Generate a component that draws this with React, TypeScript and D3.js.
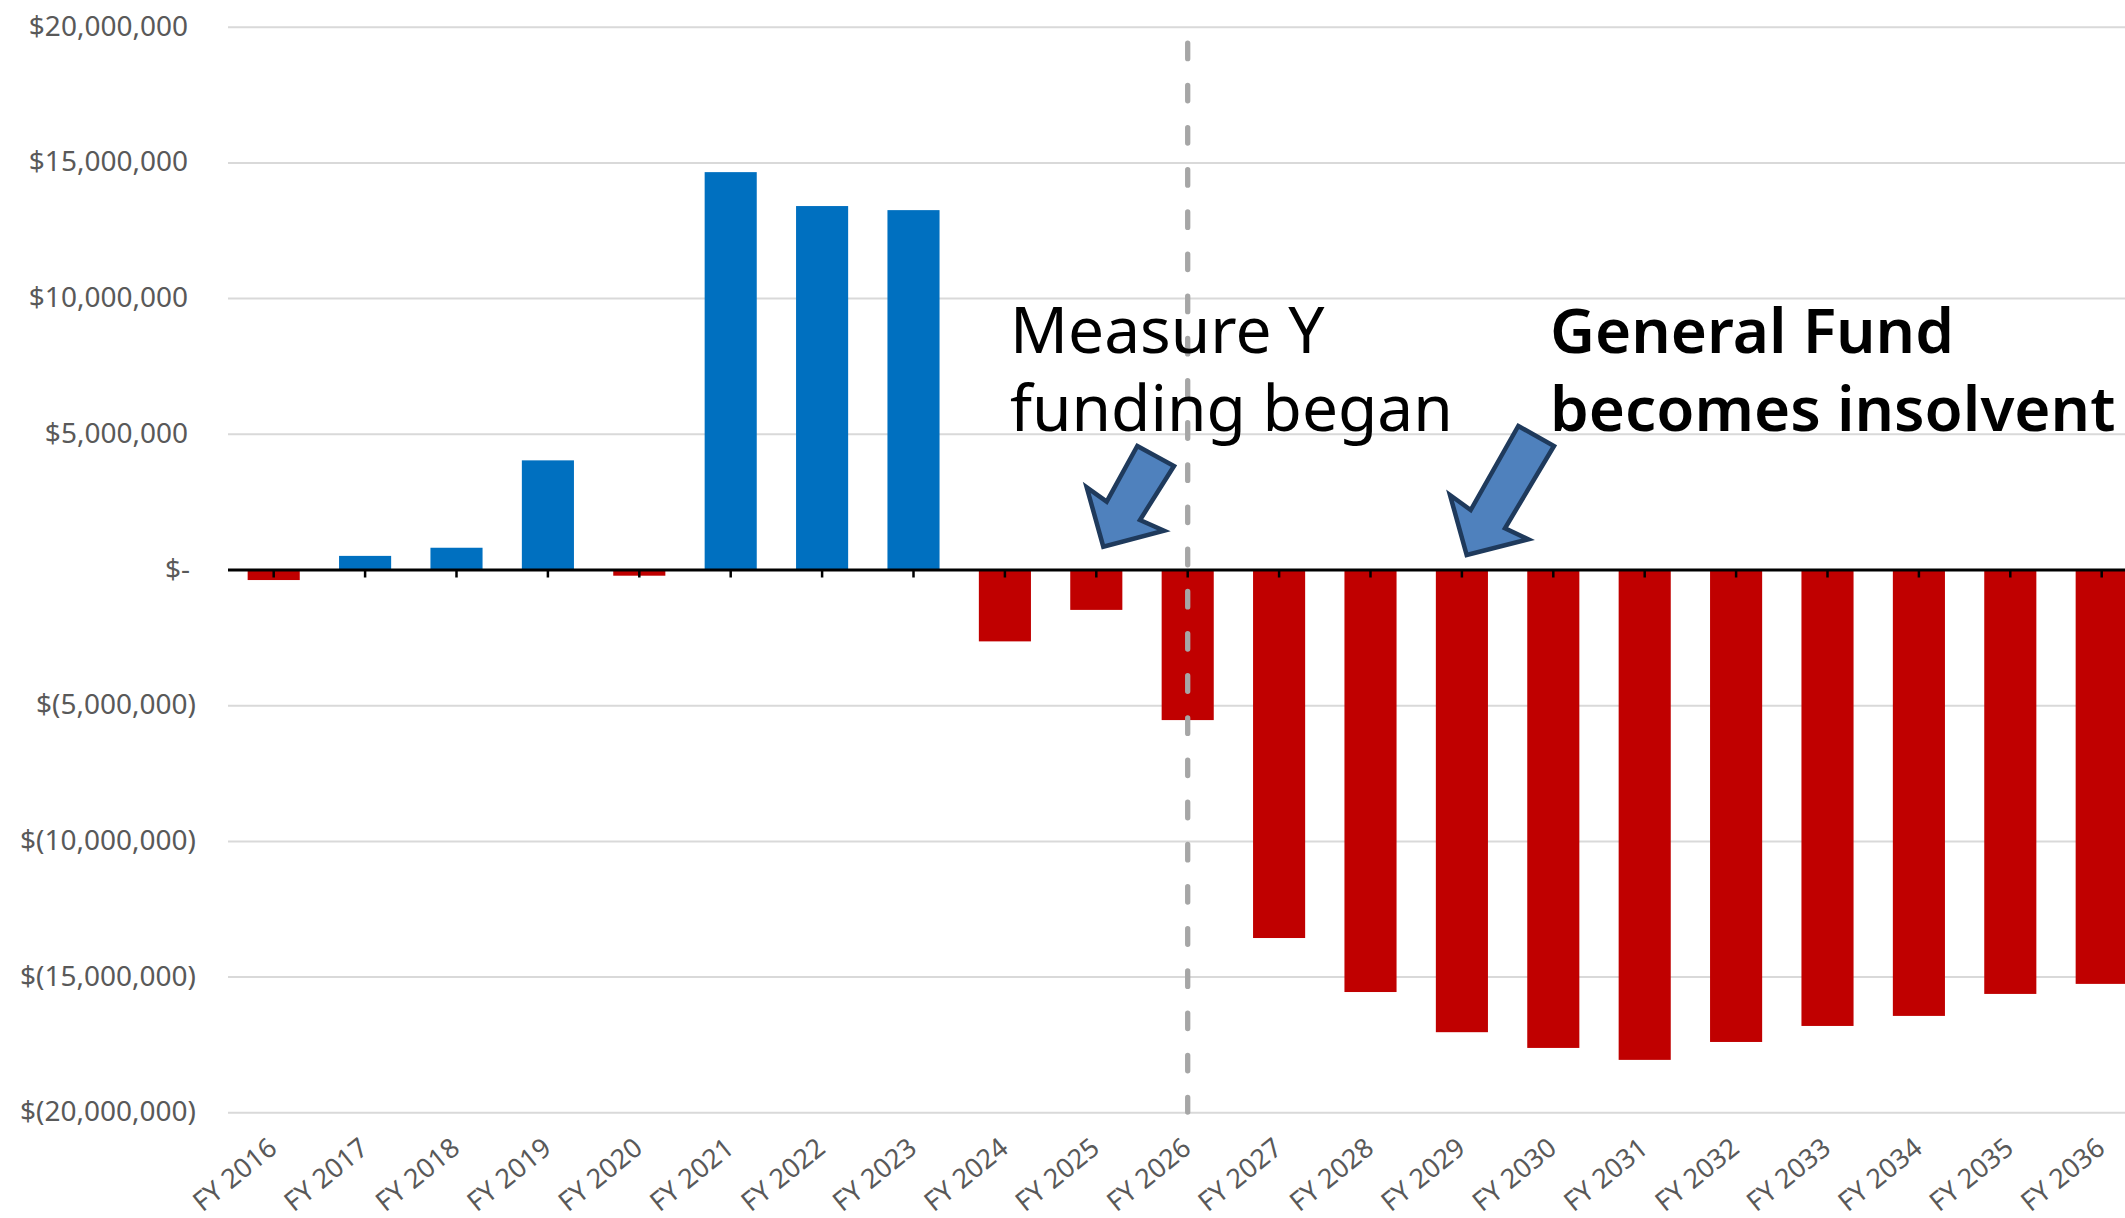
import { useRef, useEffect } from "react";
import * as d3 from "d3";

const years = [
  "FY 2016", "FY 2017", "FY 2018", "FY 2019", "FY 2020", "FY 2021", "FY 2022",
  "FY 2023", "FY 2024", "FY 2025", "FY 2026", "FY 2027", "FY 2028", "FY 2029",
  "FY 2030", "FY 2031", "FY 2032", "FY 2033", "FY 2034", "FY 2035", "FY 2036",
];

// net surplus / deficit, in millions of dollars
const netMillions = [
  -0.37, 0.52, 0.82, 4.04, -0.21, 14.66, 13.41, 13.26, -2.63, -1.47, -5.53,
  -13.56, -15.55, -17.03, -17.61, -18.05, -17.39, -16.8, -16.43, -15.62, -15.25,
];

const yTicks = [20, 15, 10, 5, 0, -5, -10, -15, -20].map((m) => m * 1e6);

const measureYear = "FY 2026";
const noteLeft = ["Measure Y", "funding began"];
const noteRight = ["General Fund", "becomes insolvent"];

const W = 2125;
const H = 1218;

const fmtMoney = (v) => {
  if (v === 0) return "$-";
  const s = d3.format(",")(Math.abs(v));
  return v < 0 ? `$(${s})` : `$${s}`;
};

function App() {
  const svgRef = useRef(null);

  useEffect(() => {
    const svg = d3.select(svgRef.current);
    svg.selectAll("*").remove();

    const left = 228;
    const step = 91.4;
    const x = d3
      .scaleBand()
      .domain(years)
      .range([left, left + step * years.length])
      .paddingInner(0.43)
      .paddingOuter(0.215);
    const y = d3.scaleLinear().domain([-20e6, 20e6]).range([1112.8, 27.2]);
    const cx = (d) => x(d) + x.bandwidth() / 2;
    const data = years.map((yr, i) => ({ yr, v: netMillions[i] * 1e6 }));

    svg.append("rect").attr("width", W).attr("height", H).attr("fill", "#fff");

    // gridlines
    svg
      .append("g")
      .selectAll("line")
      .data(yTicks)
      .join("line")
      .attr("x1", left)
      .attr("x2", W)
      .attr("y1", (d) => y(d))
      .attr("y2", (d) => y(d))
      .attr("stroke", "#d9d9d9")
      .attr("stroke-width", 2);

    // y labels
    svg
      .append("g")
      .selectAll("text")
      .data(yTicks)
      .join("text")
      .attr("x", (d) => (d < 0 ? 196 : d === 0 ? 190 : 188))
      .attr("y", (d) => y(d) - 1)
      .attr("dy", "0.34em")
      .attr("text-anchor", "end")
      .attr("font-family", "'Noto Sans', sans-serif")
      .attr("font-size", 28)
      .attr("fill", "#595959")
      .text(fmtMoney);

    // bars
    svg
      .append("g")
      .selectAll("rect")
      .data(data)
      .join("rect")
      .attr("x", (d) => x(d.yr))
      .attr("width", x.bandwidth())
      .attr("y", (d) => y(Math.max(0, d.v)))
      .attr("height", (d) => Math.abs(y(d.v) - y(0)))
      .attr("fill", (d) => (d.v >= 0 ? "#0070c0" : "#c00000"));

    // dashed marker line
    svg
      .append("line")
      .attr("x1", cx(measureYear))
      .attr("x2", cx(measureYear))
      .attr("y1", 43.2)
      .attr("y2", 1112)
      .attr("stroke", "#a6a6a6")
      .attr("stroke-width", 5.3)
      .attr("stroke-linecap", "round")
      .attr("stroke-dasharray", "15.5 26.67");

    // zero axis + ticks
    svg
      .append("line")
      .attr("x1", left)
      .attr("x2", W)
      .attr("y1", y(0))
      .attr("y2", y(0))
      .attr("stroke", "#000")
      .attr("stroke-width", 3);
    svg
      .append("g")
      .selectAll("line")
      .data(years)
      .join("line")
      .attr("x1", cx)
      .attr("x2", cx)
      .attr("y1", y(0))
      .attr("y2", y(0) + 7.5)
      .attr("stroke", "#000")
      .attr("stroke-width", 2.5);

    // x labels
    svg
      .append("g")
      .selectAll("text")
      .data(years)
      .join("text")
      .attr("transform", (d) => `translate(${cx(d) + 5},1151) rotate(-39)`)
      .attr("text-anchor", "end")
      .attr("font-family", "'Noto Sans', sans-serif")
      .attr("font-size", 27)
      .attr("fill", "#595959")
      .text((d) => d);

    // arrows
    const arrows = [
      [
        [1137.3, 446], [1174, 466], [1140, 520], [1164, 530.7],
        [1103.3, 546.7], [1086.7, 487.3], [1106.7, 501.7],
      ],
      [
        [1518.3, 426], [1554, 446], [1505, 528.3], [1528.3, 539.3],
        [1466.7, 555], [1450, 495], [1470.7, 510],
      ],
    ];
    svg
      .append("g")
      .selectAll("polygon")
      .data(arrows)
      .join("polygon")
      .attr("points", (d) => d.map((p) => p.join(",")).join(" "))
      .attr("fill", "#4f81bd")
      .attr("stroke", "#1f3a5c")
      .attr("stroke-width", 4.5)
      .attr("stroke-linejoin", "miter");

    // annotations
    const note = (lines, x0, weight, size) => {
      svg
        .append("g")
        .selectAll("text")
        .data(lines)
        .join("text")
        .attr("x", x0)
        .attr("y", (_, i) => 353 + i * 77.5)
        .attr("font-family", "'Noto Sans', sans-serif")
        .attr("font-size", size)
        .attr("font-weight", weight)
        .attr("fill", "#000")
        .text((d) => d);
    };
    note(noteLeft, 1010, 400, 64);
    note(noteRight, 1550, 600, 62);
  }, []);

  return (
    <svg
      ref={svgRef}
      width={W}
      height={H}
      style={{ position: "absolute", left: 0, top: 0 }}
    />
  );
}

export default App;
